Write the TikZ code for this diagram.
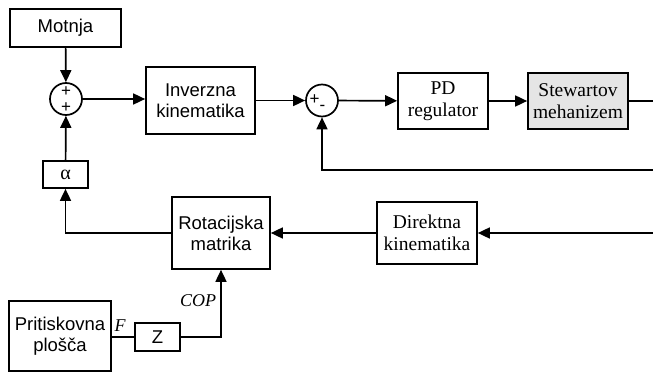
\documentclass[tikz,border=0pt]{standalone}
\usepackage{fontspec}
\setmainfont{Liberation Serif}
\newfontfamily\arialfont{Liberation Sans}
\usetikzlibrary{arrows.meta}
\begin{document}
\begin{tikzpicture}[x=1pt,y=-1pt,
  line width=1.7pt,
  arr/.style={-{Triangle[length=12pt,width=11pt]}},
  sansbox/.style={draw,inner sep=0pt,align=center,font=\arialfont\fontsize{18.5}{21}\selectfont},
  serifbox/.style={draw,inner sep=0pt,align=center,font=\fontsize{19.5}{21.5}\selectfont},
  sumnode/.style={draw,circle,minimum size=32pt,inner sep=0pt},
  sign/.style={inner sep=0pt,font=\arialfont\fontsize{17}{17}\selectfont},
  siglabel/.style={inner sep=0pt,font=\itshape\fontsize{18}{18}\selectfont}]
\useasboundingbox (0,0) rectangle (653,374);

% blocks
\node[sansbox,minimum width=111pt,minimum height=38pt] (motnja) at (65.5,28) {Motnja};
\node[sumnode] (sum1) at (66,99) {};
\node[sansbox,minimum width=109pt,minimum height=67pt] (ik) at (200.5,100.5) {Inverzna\\kinematika};
\node[sumnode] (sum2) at (322,100.5) {};
\node[serifbox,minimum width=90pt,minimum height=56pt] (pd) at (443,101) {PD\\regulator};
\node[serifbox,fill=black!10,minimum width=100pt,minimum height=56pt] (sm) at (578,101) {Stewartov\\mehanizem};
\node[draw,inner sep=0pt,minimum width=45pt,minimum height=27pt,font=\fontsize{20}{20}\selectfont] (alpha) at (65.5,174.5) {α};
\node[sansbox,minimum width=98pt,minimum height=72pt] (rot) at (221,233) {Rotacijska\\matrika};
\node[serifbox,minimum width=100pt,minimum height=62pt] (dk) at (427,233) {Direktna\\kinematika};
\node[sansbox,minimum width=102pt,minimum height=70pt] (pp) at (60,336) {Pritiskovna\\plošča};
\node[sansbox,minimum width=45pt,minimum height=28pt] (z) at (157.5,337) {Z};

% signs at the summing junctions
\node[sign] (s1a) at (66,91.5) {+};
\node[sign] (s1b) at (66,107.5) {+};
\node[sign] (s2a) at (314.5,100) {+};
\node[sign] (s2b) at (322.5,107.5) {-};

% free ends at the right border
\coordinate (outR) at (653,101);
\coordinate (fbR) at (653,170);
\coordinate (dkR) at (653,233);
\coordinate (fbC) at (322,170);
\coordinate (rotL) at (65.5,233);
\coordinate (copC) at (221,337);

% connectors
\draw[arr] (motnja) -- (sum1);
\draw[arr] (alpha) -- (sum1);
\draw[arr] (sum1) -- (ik.west |- sum1);
\draw[arr] (ik.east |- sum2) -- (sum2);
\draw[arr] (sum2) -- (pd);
\draw[arr] (pd) -- (sm);
\draw (sm.east) -- (outR);
\draw[arr] (fbR) -- (fbC) -- (sum2);
\draw[arr] (dkR) -- (dk.east);
\draw[arr] (dk.west) -- (rot.east);
\draw[arr] (rot.west) -- (rotL) -- (alpha);
\draw (pp.east |- z) -- (z.west);
\draw[arr] (z.east) -- (copC) -- (rot.south);

% signal labels
\node[siglabel,anchor=south] (flab) at (120,332) {F};
\node[siglabel,anchor=south east] (coplab) at (217,308) {COP};
\end{tikzpicture}
\end{document}
